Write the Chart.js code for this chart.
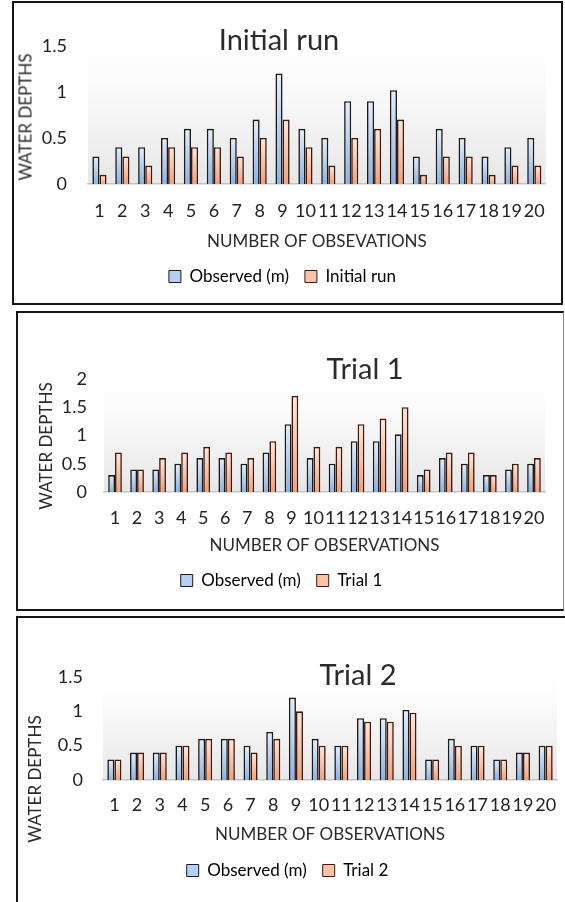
<!DOCTYPE html>
<html lang="en">
<head>
    <meta charset="UTF-8">
    <title>Water depths - observed vs simulated</title>
    <script src="https://cdn.jsdelivr.net/npm/chart.js"></script>
    <style>
        html, body {
            margin: 0;
            padding: 0;
            background: #fff;
            overflow: hidden;
            font-family: Lato, "Open Sans", sans-serif;
        }
        .panel {
            position: absolute;
            box-sizing: border-box;
            border: 2px solid #151515;
            background: #fff;
        }
        .panel canvas {
            display: block;
        }
        #p1 { left: 12px; top: 1px; width: 551px; height: 304px; }
        #p2 { left: 16px; top: 311px; width: 548px; height: 300px; border-right: 1px solid #8a8a8a; }
        #p3 { left: 16px; top: 616px; width: 560px; height: 300px; }
        .ttl {
            position: absolute;
            transform: translate(-50%, -50%);
            font-size: 29px;
            color: #2b2b2b;
            white-space: nowrap;
        }
        .ytl {
            position: absolute;
            transform: translate(-50%, -50%) rotate(-90deg);
            font-size: 17px;
            color: #2b2b2b;
            white-space: nowrap;
        }
    </style>
</head>
<body>
    <div class="panel" id="p1"><canvas id="initialChart" width="547" height="300"></canvas></div>
    <div class="panel" id="p2"><canvas id="trial1Chart" width="543" height="296"></canvas></div>
    <div class="panel" id="p3"><canvas id="trial2Chart" width="556" height="296"></canvas></div>

    <div class="ttl" style="left:279px; top:38px;">Initial run</div>
    <div class="ttl" style="left:365px; top:367px;">Trial 1</div>
    <div class="ttl" style="left:358px; top:673px;">Trial 2</div>

    <div class="ytl" style="left:25px; top:117px;">WATER DEPTHS</div>
    <div class="ytl" style="left:45px; top:446px;">WATER DEPTHS</div>
    <div class="ytl" style="left:34px; top:779px;">WATER DEPTHS</div>

    <script>
        // observation numbers on the x axis
        const observations = ['1', '2', '3', '4', '5', '6', '7', '8', '9', '10',
                              '11', '12', '13', '14', '15', '16', '17', '18', '19', '20'];

        // measured depths (m)
        const observedDepths = [0.3, 0.4, 0.4, 0.5, 0.6, 0.6, 0.5, 0.7, 1.2, 0.6,
                                0.5, 0.9, 0.9, 1.02, 0.3, 0.6, 0.5, 0.3, 0.4, 0.5];

        // model runs
        const initialRun = [0.1, 0.3, 0.2, 0.4, 0.4, 0.4, 0.3, 0.5, 0.7, 0.4,
                            0.2, 0.5, 0.6, 0.7, 0.1, 0.3, 0.3, 0.1, 0.2, 0.2];
        const trial1 = [0.7, 0.4, 0.6, 0.7, 0.8, 0.7, 0.6, 0.9, 1.7, 0.8,
                        0.8, 1.2, 1.3, 1.5, 0.4, 0.7, 0.7, 0.3, 0.5, 0.6];
        const trial2 = [0.3, 0.4, 0.4, 0.5, 0.6, 0.6, 0.4, 0.6, 1.0, 0.5,
                        0.5, 0.85, 0.85, 0.98, 0.3, 0.5, 0.5, 0.3, 0.4, 0.5];

        // y axis tops
        const yMaxInitial = 1.5;
        const yMaxTrial1 = 2;
        const yMaxTrial2 = 1.5;

        Chart.defaults.font.family = 'Lato, "Open Sans", sans-serif';
        Chart.defaults.color = '#2b2b2b';

        // soft grey fade behind the bars
        const plotShade = {
            id: 'plotShade',
            beforeDraw(chart) {
                const { ctx, chartArea: a } = chart;
                const g = ctx.createLinearGradient(0, a.top, 0, a.bottom);
                g.addColorStop(0, '#ffffff');
                g.addColorStop(0.25, '#fbfbfb');
                g.addColorStop(1, '#e7e7e7');
                ctx.save();
                ctx.fillStyle = g;
                ctx.fillRect(a.left, a.top, a.right - a.left, a.bottom - a.top);
                ctx.restore();
            }
        };

        // each bar gets its own top-to-bottom gradient
        function barFill(top, bottom) {
            return (c) => {
                const chart = c.chart;
                if (!chart.chartArea || c.type !== 'data' || !c.parsed) return bottom;
                const y = chart.scales.y;
                const g = chart.ctx.createLinearGradient(0, y.getPixelForValue(c.parsed.y), 0, y.getPixelForValue(0));
                g.addColorStop(0, top);
                g.addColorStop(1, bottom);
                return g;
            };
        }

        function drawDepthChart(canvasId, runLabel, runValues, yMax, xTitle, box) {
            const ctx = document.getElementById(canvasId).getContext('2d');
            return new Chart(ctx, {
                type: 'bar',
                data: {
                    labels: observations,
                    datasets: [
                        {
                            label: 'Observed (m)',
                            data: observedDepths,
                            backgroundColor: barFill('#e4eefa', '#8cb2e2'),
                            legendFill: '#b7cff0',
                            borderColor: '#1a1a1a',
                            borderWidth: 1.6
                        },
                        {
                            label: runLabel,
                            data: runValues,
                            backgroundColor: barFill('#fde8da', '#f2a07a'),
                            legendFill: '#f8c2a6',
                            borderColor: '#3d1911',
                            borderWidth: 1.6
                        }
                    ]
                },
                options: {
                    responsive: false,
                    animation: false,
                    layout: {
                        padding: { left: 0, top: box.top, right: box.right, bottom: box.bottom }
                    },
                    datasets: {
                        bar: { categoryPercentage: 0.62, barPercentage: 1.0 }
                    },
                    plugins: {
                        title: { display: false },
                        tooltip: { enabled: false },
                        legend: {
                            position: 'bottom',
                            labels: {
                                font: { size: 17 },
                                boxWidth: 12,
                                boxHeight: 12,
                                padding: 16,
                                color: '#2b2b2b',
                                generateLabels: (chart) => chart.data.datasets.map((ds, i) => ({
                                    text: ds.label,
                                    fillStyle: ds.legendFill,
                                    strokeStyle: ds.borderColor,
                                    lineWidth: 1,
                                    hidden: false,
                                    datasetIndex: i
                                }))
                            }
                        }
                    },
                    scales: {
                        x: {
                            grid: { display: false, drawTicks: false },
                            border: { display: true, color: '#c4c4c4', width: 1.5 },
                            ticks: {
                                autoSkip: false,
                                maxRotation: 0,
                                minRotation: 0,
                                padding: box.xTickPad,
                                font: { size: 18 },
                                color: '#222'
                            },
                            title: {
                                display: true,
                                text: xTitle,
                                font: { size: 17 },
                                color: '#2b2b2b',
                                padding: { top: 0, bottom: box.xTitlePad }
                            },
                            afterFit: (s) => { s.height = box.xHeight; }
                        },
                        y: {
                            min: 0,
                            max: yMax,
                            grid: { display: false, drawTicks: false },
                            border: { display: false },
                            ticks: {
                                stepSize: 0.5,
                                padding: box.yTickPad,
                                font: { size: 18 },
                                color: '#222',
                                callback: (v) => String(v)
                            },
                            afterFit: (s) => { s.width = box.yWidth; }
                        }
                    }
                },
                plugins: [plotShade]
            });
        }

        drawDepthChart('initialChart', 'Initial run', initialRun, yMaxInitial, 'NUMBER OF OBSEVATIONS',
            { top: 43, right: 10, bottom: 8, yWidth: 74, yTickPad: 21, xHeight: 68, xTickPad: 16, xTitlePad: 0 });
        drawDepthChart('trial1Chart', 'Trial 1', trial1, yMaxTrial1, 'NUMBER OF OBSERVATIONS',
            { top: 66, right: 16, bottom: 10, yWidth: 86, yTickPad: 17, xHeight: 64, xTickPad: 15, xTitlePad: 0 });
        drawDepthChart('trial2Chart', 'Trial 2', trial2, yMaxTrial2, 'NUMBER OF OBSERVATIONS',
            { top: 59, right: 17, bottom: 25, yWidth: 85, yTickPad: 20, xHeight: 66, xTickPad: 14, xTitlePad: 1 });
    </script>
</body>
</html>
